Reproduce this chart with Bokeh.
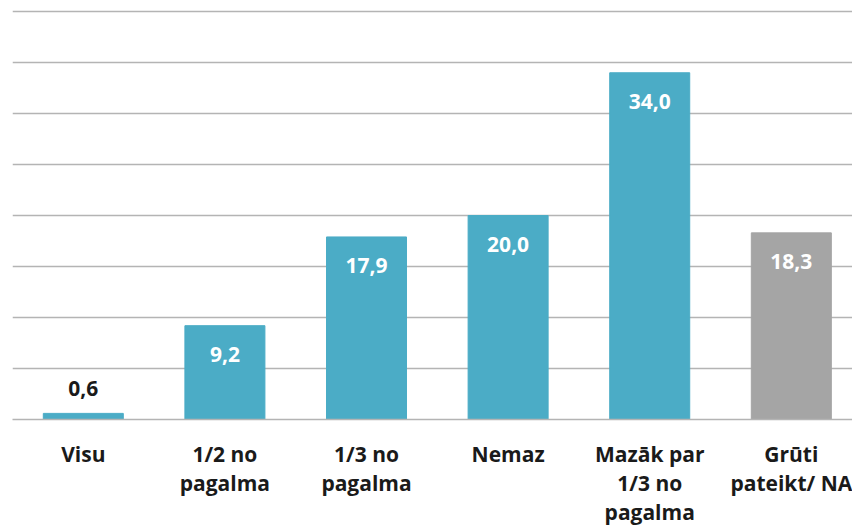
from bokeh.plotting import figure
from bokeh.models import ColumnDataSource, Range1d, FixedTicker
from bokeh.core.properties import value
from bokeh.embed import file_html
from bokeh.resources import INLINE

categories = ["Visu", "1/2 no\npagalma", "1/3 no\npagalma", "Nemaz",
              "Mazāk par\n1/3 no\npagalma", "Grūti\npateikt/ NA"]
values = [0.6, 9.2, 17.9, 20.0, 34.0, 18.3]
value_labels = ["0,6", "9,2", "17,9", "20,0", "34,0", "18,3"]
bar_colors = ["#4BACC6", "#4BACC6", "#4BACC6", "#4BACC6", "#4BACC6", "#A5A5A5"]
y_ticks = [0, 5, 10, 15, 20, 25, 30, 35, 40]

xs = [i + 0.5 for i in range(len(categories))]
inside = [v >= 5 for v in values]
src = ColumnDataSource(dict(
    x=xs, top=values, color=bar_colors, label=value_labels,
    tcolor=["#FFFFFF" if ins else "#1A1A1A" for ins in inside],
    yoff=[29 if ins else -25 for ins in inside],
))

p = figure(width=852, height=527, output_backend="svg", toolbar_location=None,
           x_range=Range1d(0, 5.932), y_range=Range1d(0, 40.3),
           frame_width=840, frame_height=411,
           min_border_left=12, min_border_right=0, min_border_top=8, min_border_bottom=0)
p.outline_line_color = None
p.background_fill_color = "white"

p.vbar(x="x", top="top", bottom=0, width=0.565, color="color", source=src)
p.text(x="x", y="top", text="label", source=src, text_color="tcolor",
       y_offset="yoff", text_align="center", text_baseline="middle",
       text_font=value("Open Sans"), text_font_style="bold", text_font_size="21px")

p.yaxis.visible = False
p.ygrid.ticker = FixedTicker(ticks=y_ticks)
p.ygrid.grid_line_color = "#B4B4B4"
p.ygrid.grid_line_width = 1.5
p.xgrid.visible = False

ax = p.xaxis[0]
ax.ticker = FixedTicker(ticks=xs)
ax.major_label_overrides = {x: c for x, c in zip(xs, categories)}
ax.major_tick_line_color = None
ax.minor_tick_line_color = None
ax.axis_line_color = "#B4B4B4"
ax.axis_line_width = 1.5
ax.major_label_text_font = "Open Sans"
ax.major_label_text_font_style = "bold"
ax.major_label_text_font_size = "21px"
ax.major_label_text_color = "#1A1A1A"
ax.major_label_text_line_height = 1.05
ax.major_label_standoff = 14

open("out.html", "w").write(file_html(p, INLINE))
